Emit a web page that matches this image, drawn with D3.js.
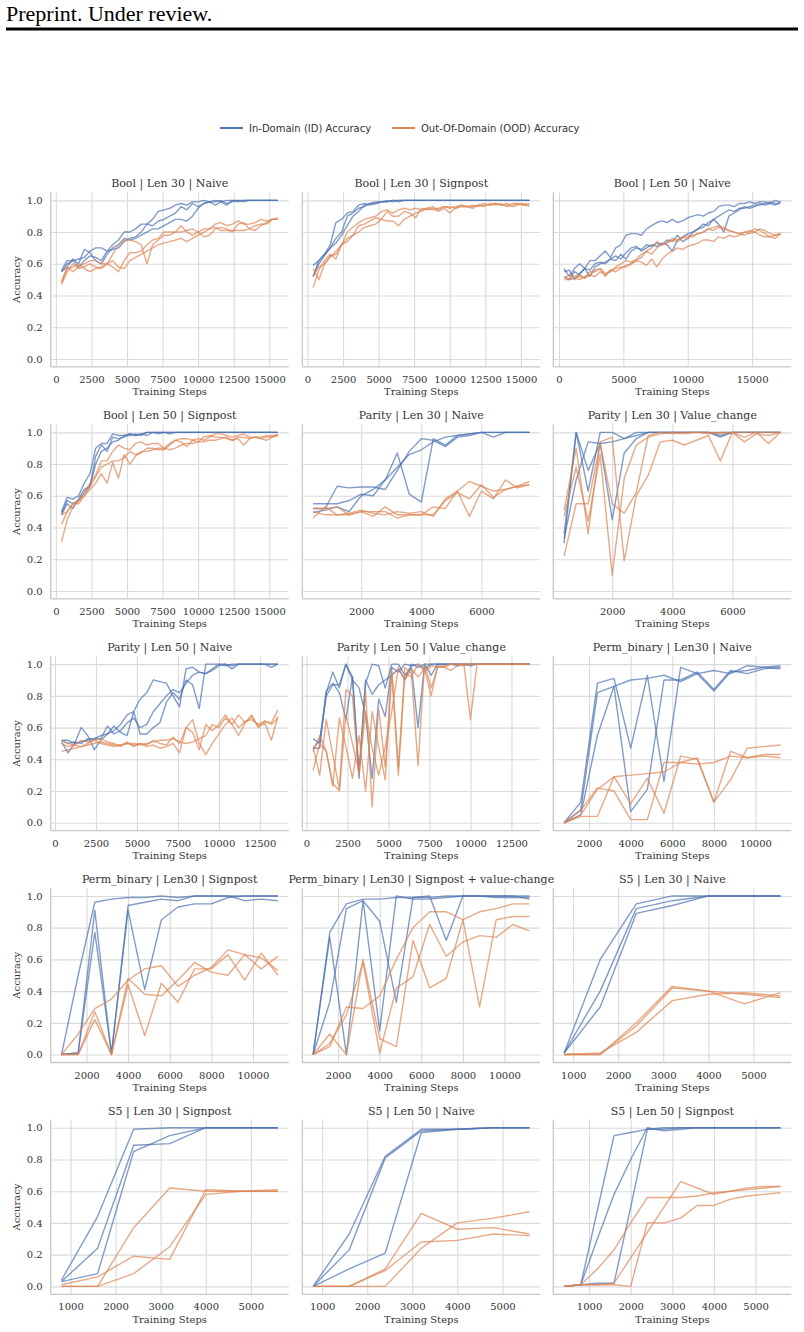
<!DOCTYPE html>
<html>
<head>
<meta charset="utf-8">
<script src="https://cdn.jsdelivr.net/npm/d3@7"></script>
<style>
  html, body { margin: 0; padding: 0; background: #fff; }
  svg { display: block; }
  .page-head { font-family: "Liberation Serif", serif; font-size: 22px; fill: #000; }
  .legend-text { font-family: "DejaVu Sans", sans-serif; font-size: 10px; fill: #333; }
  .panel-title { font-family: "DejaVu Serif", serif; font-size: 11px; fill: #333; }
  .axis-label { font-family: "DejaVu Serif", serif; font-size: 10px; fill: #333; }
  .tick text { font-family: "DejaVu Serif", serif; font-size: 10px; fill: #333; }
  .grid line { stroke: #dadada; stroke-width: 1.1; }
  .spine { stroke: #c8c8c8; stroke-width: 1.3; }
  .run { fill: none; stroke-width: 1.4; stroke-opacity: 0.7; stroke-linejoin: round; }
</style>
</head>
<body>
<svg id="chart" width="804" height="1332"></svg>
<script>
// ---- training steps (x values) ----
const stepsBool = [400, 800, 1200, 1600, 2000, 2400, 2800, 3200, 3600, 4000,
  4400, 4800, 5200, 5600, 6000, 6400, 6800, 7200, 7600, 8000,
  8400, 8800, 9200, 9600, 10000, 10400, 10800, 11200, 11600, 12000,
  12400, 12800, 13200, 13600, 14000, 14400, 14800, 15200, 15600];
const stepsBoolLong = [400, 800, 1200, 1600, 2000, 2400, 2800, 3200, 3600, 4000,
  4400, 4800, 5200, 5600, 6000, 6400, 6800, 7200, 7600, 8000,
  8400, 8800, 9200, 9600, 10000, 10400, 10800, 11200, 11600, 12000,
  12400, 12800, 13200, 13600, 14000, 14400, 14800, 15200, 15600, 16000,
  16400, 16800, 17200];
const stepsParity30 = [400, 800, 1200, 1600, 2000, 2400, 2800, 3200, 3600, 4000,
  4400, 4800, 5200, 5600, 6000, 6400, 6800, 7200, 7600];
const stepsParity50 = [400, 800, 1200, 1600, 2000, 2400, 2800, 3200, 3600, 4000,
  4400, 4800, 5200, 5600, 6000, 6400, 6800, 7200, 7600, 8000,
  8400, 8800, 9200, 9600, 10000, 10400, 10800, 11200, 11600, 12000,
  12400, 12800, 13200, 13600];
const stepsPerm = [800, 1600, 2400, 3200, 4000, 4800, 5600, 6400, 7200, 8000, 8800, 9600, 10400, 11200];
const stepsS5 = [800, 1600, 2400, 3200, 4000, 4800, 5600];
const stepsS5Fine = [400, 800, 1200, 1600, 2000, 2400, 2800, 3200, 3600, 4000, 4400, 4800, 5200, 5600];

// ---- tick labels ----
const ticksBool = [0, 2500, 5000, 7500, 10000, 12500, 15000];
const ticksBoolLong = [0, 5000, 10000, 15000];
const ticksParity30 = [2000, 4000, 6000];
const ticksParity50 = [0, 2500, 5000, 7500, 10000, 12500];
const ticksPerm = [2000, 4000, 6000, 8000, 10000];
const ticksS5 = [1000, 2000, 3000, 4000, 5000];
const ticksAcc = [0, 0.2, 0.4, 0.6, 0.8, 1.0];

// ---- accuracy runs: three seeds per setting, ID and OOD ----
const boolLen30NaiveId = [
  [0.55,0.60,0.62,0.63,0.64,0.68,0.70,0.70,0.68,0.72, 0.75,0.80,0.80,0.82,0.85,0.85,0.88,0.93,0.94,0.95,
   0.97,0.98,0.97,0.99,0.99,1.00,0.99,1.00,0.99,1.00, 1.00,1.00,0.99,1.00,1.00,1.00,1.00,1.00,1.00],
  [0.56,0.62,0.62,0.58,0.62,0.65,0.64,0.62,0.68,0.69, 0.70,0.74,0.76,0.77,0.80,0.85,0.84,0.87,0.88,0.90,
   0.92,0.96,0.94,0.98,0.96,0.98,0.99,0.99,1.00,0.98, 0.99,1.00,1.00,1.00,1.00,1.00,1.00,1.00,1.00],
  [0.55,0.58,0.63,0.60,0.69,0.67,0.62,0.60,0.66,0.70, 0.72,0.76,0.75,0.76,0.78,0.80,0.82,0.82,0.84,0.86,
   0.88,0.88,0.87,0.90,0.95,0.98,0.99,0.97,0.99,0.97, 1.00,0.99,1.00,1.00,1.00,1.00,1.00,1.00,1.00]
];
const boolLen30NaiveOod = [
  [0.47,0.55,0.60,0.57,0.58,0.60,0.58,0.57,0.60,0.66, 0.72,0.75,0.75,0.74,0.72,0.60,0.72,0.75,0.78,0.78,
   0.80,0.84,0.80,0.78,0.80,0.82,0.82,0.85,0.86,0.84, 0.85,0.87,0.85,0.85,0.86,0.88,0.87,0.88,0.88],
  [0.49,0.57,0.58,0.60,0.57,0.55,0.57,0.58,0.60,0.58, 0.55,0.62,0.67,0.67,0.68,0.72,0.75,0.76,0.80,0.80,
   0.80,0.80,0.81,0.82,0.80,0.77,0.78,0.82,0.83,0.82, 0.80,0.85,0.86,0.82,0.81,0.84,0.86,0.88,0.88],
  [0.48,0.58,0.55,0.58,0.60,0.62,0.62,0.60,0.60,0.62, 0.58,0.57,0.62,0.64,0.66,0.68,0.70,0.72,0.73,0.74,
   0.75,0.76,0.74,0.76,0.78,0.80,0.82,0.83,0.81,0.81, 0.81,0.81,0.81,0.82,0.84,0.85,0.85,0.88,0.89]
];

const boolLen30SignpostId = [
  [0.59,0.62,0.66,0.72,0.86,0.88,0.92,0.93,0.97,0.98, 0.97,0.98,0.99,0.99,1.00,0.99,1.00,1.00,1.00,1.00,
   1.00,1.00,1.00,1.00,1.00,1.00,1.00,1.00,1.00,1.00, 1.00,1.00,1.00,1.00,1.00,1.00,1.00,1.00,1.00],
  [0.52,0.60,0.65,0.70,0.76,0.80,0.90,0.92,0.95,0.96, 0.98,0.99,0.99,1.00,0.99,1.00,1.00,1.00,1.00,1.00,
   1.00,1.00,1.00,1.00,1.00,1.00,1.00,1.00,1.00,1.00, 1.00,1.00,1.00,1.00,1.00,1.00,1.00,1.00,1.00],
  [0.52,0.62,0.66,0.70,0.73,0.78,0.84,0.90,0.93,0.97, 0.98,0.98,0.99,0.99,1.00,1.00,1.00,1.00,1.00,1.00,
   1.00,1.00,1.00,1.00,1.00,1.00,1.00,1.00,1.00,1.00, 1.00,1.00,1.00,1.00,1.00,1.00,1.00,1.00,1.00]
];
const boolLen30SignpostOod = [
  [0.57,0.50,0.60,0.65,0.66,0.72,0.80,0.83,0.86,0.88, 0.89,0.90,0.93,0.94,0.92,0.94,0.95,0.94,0.95,0.94,
   0.95,0.96,0.94,0.96,0.95,0.96,0.97,0.96,0.97,0.96, 0.97,0.97,0.98,0.97,0.97,0.96,0.97,0.98,0.97],
  [0.45,0.56,0.62,0.66,0.63,0.72,0.74,0.78,0.84,0.85, 0.87,0.89,0.88,0.93,0.90,0.90,0.93,0.92,0.89,0.95,
   0.94,0.95,0.93,0.95,0.92,0.95,0.96,0.96,0.95,0.97, 0.96,0.98,0.97,0.98,0.96,0.98,0.98,0.97,0.98],
  [0.52,0.58,0.60,0.64,0.68,0.72,0.76,0.78,0.80,0.83, 0.84,0.85,0.88,0.87,0.87,0.84,0.88,0.90,0.92,0.93,
   0.95,0.94,0.95,0.96,0.96,0.95,0.97,0.96,0.96,0.97, 0.98,0.97,0.98,0.97,0.98,0.97,0.98,0.97,0.96]
];

const boolLen50NaiveId = [
  [0.57,0.52,0.57,0.60,0.57,0.62,0.62,0.65,0.68,0.64, 0.70,0.72,0.78,0.79,0.79,0.78,0.82,0.84,0.86,0.87,
   0.86,0.88,0.86,0.87,0.89,0.90,0.91,0.90,0.92,0.93, 0.96,0.97,0.97,0.96,0.98,0.98,0.99,0.98,0.99,0.99,
   0.98,1.00,0.99],
  [0.55,0.56,0.50,0.54,0.57,0.52,0.58,0.60,0.61,0.63, 0.62,0.66,0.63,0.68,0.70,0.69,0.72,0.71,0.73,0.72,
   0.75,0.74,0.78,0.74,0.76,0.80,0.82,0.85,0.84,0.88, 0.85,0.80,0.90,0.92,0.94,0.96,0.95,0.96,0.98,0.97,
   0.98,0.97,0.99],
  [0.52,0.50,0.55,0.53,0.57,0.56,0.60,0.61,0.60,0.63, 0.65,0.63,0.67,0.70,0.71,0.68,0.70,0.72,0.71,0.73,
   0.72,0.68,0.75,0.77,0.79,0.80,0.82,0.83,0.86,0.88, 0.90,0.92,0.94,0.93,0.95,0.95,0.96,0.97,0.97,0.98,
   0.99,0.98,0.98]
];
const boolLen50NaiveOod = [
  [0.52,0.50,0.51,0.50,0.52,0.53,0.56,0.57,0.54,0.55, 0.58,0.60,0.62,0.61,0.63,0.66,0.68,0.70,0.74,0.72,
   0.73,0.75,0.74,0.76,0.78,0.77,0.79,0.80,0.82,0.81, 0.83,0.82,0.81,0.80,0.79,0.80,0.81,0.80,0.82,0.81,
   0.79,0.78,0.79],
  [0.50,0.50,0.51,0.52,0.51,0.53,0.52,0.55,0.53,0.56, 0.55,0.57,0.59,0.60,0.62,0.64,0.68,0.66,0.70,0.72,
   0.74,0.76,0.75,0.77,0.76,0.78,0.79,0.80,0.82,0.83, 0.84,0.83,0.81,0.80,0.79,0.78,0.80,0.82,0.81,0.79,
   0.77,0.76,0.79],
  [0.51,0.53,0.52,0.53,0.51,0.55,0.55,0.57,0.52,0.56, 0.57,0.58,0.58,0.60,0.62,0.61,0.59,0.63,0.58,0.63,
   0.66,0.68,0.70,0.69,0.71,0.72,0.73,0.75,0.75,0.74, 0.77,0.76,0.78,0.77,0.78,0.80,0.79,0.80,0.78,0.77,
   0.77,0.78,0.79]
];

const boolLen50SignpostId = [
  [0.50,0.59,0.58,0.60,0.68,0.74,0.90,0.93,0.93,0.99, 0.98,0.98,0.99,0.98,0.99,0.98,1.00,0.99,1.00,0.99,
   1.00,1.00,1.00,1.00,1.00,1.00,1.00,1.00,1.00,1.00, 1.00,1.00,1.00,1.00,1.00,1.00,1.00,1.00,1.00],
  [0.48,0.55,0.52,0.58,0.64,0.66,0.85,0.92,0.88,0.97, 0.96,0.97,0.99,0.98,0.99,1.00,1.00,1.00,1.00,1.00,
   1.00,1.00,1.00,1.00,1.00,1.00,1.00,1.00,1.00,1.00, 1.00,1.00,1.00,1.00,1.00,1.00,1.00,1.00,1.00],
  [0.49,0.57,0.55,0.57,0.62,0.66,0.80,0.88,0.90,0.94, 0.95,0.98,0.98,0.99,0.98,1.00,1.00,1.00,1.00,1.00,
   1.00,1.00,1.00,1.00,1.00,1.00,1.00,1.00,1.00,1.00, 1.00,1.00,1.00,1.00,1.00,1.00,1.00,1.00,1.00]
];
const boolLen50SignpostOod = [
  [0.31,0.45,0.53,0.57,0.60,0.64,0.68,0.74,0.68,0.81, 0.71,0.86,0.80,0.85,0.88,0.88,0.89,0.90,0.90,0.89,
   0.90,0.92,0.93,0.93,0.94,0.94,0.95,0.95,0.96,0.97, 0.95,0.97,0.97,0.96,0.97,0.96,0.97,0.98,0.98],
  [0.42,0.50,0.55,0.55,0.60,0.66,0.72,0.78,0.80,0.82, 0.82,0.84,0.88,0.86,0.87,0.90,0.90,0.89,0.89,0.92,
   0.95,0.96,0.96,0.95,0.94,0.97,0.98,0.97,0.97,0.96, 0.95,0.96,0.92,0.96,0.97,0.97,0.98,0.97,0.98],
  [0.48,0.50,0.55,0.57,0.62,0.68,0.73,0.82,0.82,0.88, 0.92,0.90,0.89,0.93,0.94,0.92,0.93,0.93,0.90,0.93,
   0.95,0.94,0.91,0.95,0.96,0.95,0.97,0.99,0.99,0.98, 0.97,0.98,0.99,0.97,0.97,0.96,0.95,0.97,0.99]
];

const parityLen30NaiveId = [
  [0.55,0.55,0.55,0.57,0.61,0.60,0.70,0.87,0.61,0.56, 0.96,0.92,0.98,0.99,1.00,1.00,1.00,1.00,1.00],
  [0.52,0.52,0.66,0.65,0.655,0.655,0.64,0.76,0.88,0.96, 0.95,0.91,0.97,0.98,1.00,0.97,1.00,1.00,1.00],
  [0.495,0.51,0.53,0.50,0.60,0.64,0.70,0.78,0.86,0.89, 0.94,0.97,0.98,0.99,1.00,1.00,1.00,1.00,1.00]
];
const parityLen30NaiveOod = [
  [0.52,0.52,0.53,0.48,0.50,0.50,0.50,0.46,0.48,0.48, 0.53,0.52,0.63,0.47,0.63,0.58,0.70,0.65,0.67],
  [0.50,0.48,0.48,0.49,0.51,0.49,0.48,0.50,0.49,0.50, 0.47,0.58,0.63,0.69,0.66,0.63,0.64,0.66,0.69],
  [0.46,0.53,0.48,0.48,0.50,0.47,0.53,0.48,0.48,0.48, 0.48,0.57,0.62,0.58,0.67,0.59,0.64,0.66,0.67]
];

const parityLen30ValueId = [
  [0.36,1.00,0.76,0.93,0.94,0.96,1.00,1.00,1.00,1.00, 1.00,1.00,1.00,0.98,1.00,1.00,1.00,1.00,1.00],
  [0.30,1.00,0.63,1.00,1.00,0.96,0.98,1.00,1.00,1.00, 1.00,1.00,1.00,1.00,1.00,1.00,1.00,1.00,1.00],
  [0.33,0.70,0.94,0.93,0.45,0.87,0.96,1.00,1.00,1.00, 1.00,1.00,1.00,0.97,1.00,1.00,1.00,1.00,1.00]
];
const parityLen30ValueOod = [
  [0.51,0.90,0.36,0.94,0.97,0.19,0.60,0.73,0.94,0.95, 0.92,0.95,0.98,0.82,1.00,0.97,1.00,0.93,1.00],
  [0.47,0.78,0.44,0.86,0.10,0.71,0.92,0.97,0.99,1.00, 0.99,1.00,0.99,1.00,1.00,0.94,0.99,0.98,1.00],
  [0.22,0.55,0.55,0.93,0.55,0.49,0.62,0.98,1.00,0.99, 1.00,1.00,1.00,0.99,1.00,1.00,1.00,1.00,1.00]
];

const parityLen50NaiveId = [
  [0.52,0.50,0.51,0.50,0.53,0.53,0.55,0.56,0.58,0.62, 0.68,0.70,0.78,0.82,0.90,0.89,0.88,0.80,0.73,0.97,
   0.98,0.95,0.94,0.96,0.99,1.00,0.99,1.00,1.00,1.00, 1.00,1.00,0.98,1.00],
  [0.51,0.44,0.50,0.60,0.55,0.46,0.52,0.56,0.61,0.57, 0.55,0.70,0.56,0.56,0.60,0.63,0.76,0.82,0.78,0.90,
   0.87,0.72,1.00,1.00,1.00,1.00,0.97,1.00,1.00,1.00, 1.00,1.00,1.00,1.00],
  [0.52,0.52,0.50,0.51,0.52,0.53,0.53,0.61,0.56,0.58, 0.63,0.66,0.60,0.62,0.70,0.75,0.80,0.84,0.82,0.88,
   0.93,0.95,0.94,0.97,1.00,0.99,1.00,1.00,1.00,1.00, 1.00,1.00,1.00,1.00]
];
const parityLen50NaiveOod = [
  [0.45,0.46,0.47,0.48,0.49,0.50,0.51,0.50,0.49,0.49, 0.50,0.50,0.49,0.50,0.51,0.52,0.52,0.53,0.51,0.50,
   0.51,0.53,0.55,0.62,0.60,0.66,0.62,0.68,0.63,0.67, 0.61,0.64,0.63,0.71],
  [0.50,0.48,0.49,0.48,0.50,0.52,0.50,0.49,0.48,0.49, 0.50,0.49,0.50,0.48,0.49,0.47,0.48,0.50,0.44,0.60,
   0.57,0.46,0.62,0.58,0.62,0.68,0.62,0.55,0.63,0.68, 0.60,0.63,0.52,0.67],
  [0.52,0.50,0.49,0.52,0.51,0.52,0.53,0.51,0.50,0.48, 0.51,0.48,0.50,0.49,0.52,0.50,0.49,0.54,0.50,0.60,
   0.65,0.50,0.43,0.50,0.56,0.62,0.66,0.60,0.64,0.65, 0.62,0.64,0.62,0.66]
];

const parityLen50ValueId = [
  [0.53,0.50,0.82,0.95,0.85,1.00,0.92,0.32,0.90,0.81, 0.87,0.90,0.93,0.97,0.90,1.00,0.98,1.00,1.00,1.00,
   1.00,1.00,1.00,1.00,0.99,1.00,1.00,1.00,1.00,1.00, 1.00,1.00,1.00,1.00],
  [0.47,0.47,0.83,0.88,0.82,0.65,0.92,0.28,0.88,1.00, 0.99,0.85,1.00,1.00,0.93,0.98,0.60,1.00,0.93,1.00,
   1.00,1.00,1.00,1.00,1.00,1.00,1.00,1.00,1.00,1.00, 1.00,1.00,1.00,1.00],
  [0.47,0.52,0.80,0.87,0.87,1.00,0.90,0.85,0.68,0.28, 0.78,0.67,0.98,0.95,1.00,0.99,1.00,0.97,1.00,1.00,
   1.00,1.00,0.99,1.00,1.00,1.00,1.00,1.00,1.00,1.00, 1.00,1.00,1.00,1.00]
];
const parityLen50ValueOod = [
  [0.47,0.30,0.65,0.43,0.21,0.84,0.80,0.30,0.83,0.10, 0.72,0.35,0.97,0.35,0.98,0.94,0.36,1.00,0.85,0.98,
   0.99,1.00,1.00,1.00,1.00,1.00,1.00,1.00,1.00,1.00, 1.00,1.00,1.00,1.00],
  [0.33,0.50,0.45,0.23,0.66,0.48,0.28,0.55,0.20,0.70, 0.48,0.27,0.95,0.30,0.94,0.92,1.00,0.95,0.99,0.98,
   0.98,0.96,0.99,1.00,0.65,1.00,1.00,1.00,1.00,1.00, 1.00,1.00,1.00,1.00],
  [0.45,0.55,0.45,0.25,0.20,0.68,0.50,0.32,0.70,0.47, 0.30,0.48,0.70,0.98,0.90,0.97,0.92,0.97,0.80,0.99,
   0.98,1.00,1.00,0.99,1.00,1.00,1.00,1.00,1.00,1.00, 1.00,1.00,1.00,1.00]
];

const permNaiveId = [
  [0.00,0.13,0.88,0.91,0.47,0.93,0.26,0.98,0.94,0.83,0.95,0.96,0.98,0.99],
  [0.00,0.08,0.82,0.86,0.07,0.21,0.90,0.90,0.95,0.84,0.96,0.94,0.97,0.98],
  [0.00,0.05,0.55,0.86,0.90,0.91,0.93,0.89,0.94,0.96,0.94,0.99,0.98,0.97]
];
const permNaiveOod = [
  [0.00,0.05,0.21,0.29,0.30,0.31,0.32,0.38,0.37,0.38,0.42,0.41,0.43,0.43],
  [0.00,0.08,0.22,0.20,0.02,0.02,0.38,0.38,0.41,0.13,0.27,0.47,0.48,0.49],
  [0.00,0.04,0.04,0.29,0.12,0.28,0.06,0.42,0.40,0.13,0.45,0.41,0.42,0.41]
];

const permSignpostId = [
  [0.00,0.50,0.96,0.98,0.99,0.99,1.00,0.99,1.00,1.00,1.00,1.00,1.00,1.00],
  [0.00,0.01,0.91,0.00,0.94,0.96,0.98,0.97,1.00,1.00,1.00,0.97,0.98,0.97],
  [0.00,0.01,0.77,0.01,0.91,0.41,0.85,0.93,0.95,0.95,0.99,1.00,1.00,1.00]
];
const permSignpostOod = [
  [0.00,0.13,0.29,0.35,0.47,0.54,0.56,0.43,0.50,0.55,0.66,0.63,0.61,0.53],
  [0.00,0.00,0.27,0.00,0.48,0.38,0.37,0.47,0.58,0.52,0.50,0.63,0.54,0.62],
  [0.00,0.00,0.22,0.00,0.44,0.12,0.45,0.33,0.54,0.54,0.63,0.47,0.64,0.50]
];

const permBothId = [
  [0.00,0.77,0.95,0.98,0.98,0.99,0.99,0.99,1.00,1.00,1.00,1.00,1.00,1.00],
  [0.00,0.33,0.92,0.97,0.84,0.33,0.99,1.00,0.72,1.00,1.00,1.00,1.00,0.98],
  [0.00,0.74,0.00,0.97,0.15,1.00,0.98,0.98,0.99,1.00,1.00,0.99,0.99,0.99]
];
const permBothOod = [
  [0.00,0.13,0.00,0.60,0.10,0.05,0.72,0.42,0.48,0.85,0.30,0.85,0.87,0.87],
  [0.00,0.07,0.25,0.58,0.01,0.42,0.49,0.82,0.62,0.71,0.75,0.74,0.82,0.78],
  [0.00,0.05,0.30,0.29,0.37,0.60,0.80,0.90,0.90,0.85,0.90,0.92,0.95,0.95]
];

const s5Len30NaiveId = [
  [0.01,0.60,0.95,1.00,1.00,1.00,1.00],
  [0.01,0.40,0.92,0.97,1.00,1.00,1.00],
  [0.01,0.30,0.89,0.94,1.00,1.00,1.00]
];
const s5Len30NaiveOod = [
  [0.00,0.00,0.20,0.43,0.40,0.38,0.36],
  [0.00,0.00,0.18,0.42,0.40,0.32,0.39],
  [0.00,0.01,0.14,0.34,0.38,0.39,0.37]
];

const s5Len30SignpostId = [
  [0.04,0.44,0.99,1.00,1.00,1.00,1.00],
  [0.03,0.24,0.89,0.90,1.00,1.00,1.00],
  [0.03,0.08,0.85,0.95,1.00,1.00,1.00]
];
const s5Len30SignpostOod = [
  [0.01,0.06,0.19,0.17,0.61,0.60,0.60],
  [0.00,0.00,0.37,0.62,0.60,0.60,0.61],
  [0.00,0.00,0.08,0.25,0.58,0.60,0.60]
];

const s5Len50NaiveId = [
  [0.00,0.33,0.82,0.99,0.99,1.00,1.00],
  [0.00,0.23,0.81,0.98,0.99,1.00,1.00],
  [0.00,0.11,0.21,0.97,0.99,1.00,1.00]
];
const s5Len50NaiveOod = [
  [0.00,0.00,0.11,0.46,0.36,0.37,0.33],
  [0.00,0.00,0.10,0.28,0.29,0.33,0.32],
  [0.00,0.00,0.00,0.24,0.40,0.43,0.47]
];

const s5Len50SignpostId = [
  [0.00,0.01,0.48,0.95,0.97,0.99,1.00,1.00,1.00,1.00,1.00,1.00,1.00,1.00],
  [0.00,0.01,0.30,0.58,0.80,1.00,0.98,0.99,1.00,1.00,1.00,1.00,1.00,1.00],
  [0.00,0.01,0.02,0.02,0.50,0.99,0.99,1.00,1.00,1.00,1.00,1.00,1.00,1.00]
];
const s5Len50SignpostOod = [
  [0.00,0.01,0.11,0.23,0.40,0.56,0.56,0.56,0.57,0.59,0.60,0.61,0.62,0.63],
  [0.00,0.01,0.01,0.01,0.00,0.40,0.40,0.43,0.51,0.51,0.55,0.57,0.58,0.59],
  [0.00,0.01,0.01,0.02,0.18,0.34,0.50,0.66,0.62,0.58,0.60,0.62,0.63,0.63]
];

// Panel table, in reading order (3 per row)
const panels = [
  { title: "Bool | Len 30 | Naive", steps: stepsBool, ticks: ticksBool, id: boolLen30NaiveId, ood: boolLen30NaiveOod },
  { title: "Bool | Len 30 | Signpost", steps: stepsBool, ticks: ticksBool, id: boolLen30SignpostId, ood: boolLen30SignpostOod },
  { title: "Bool | Len 50 | Naive", steps: stepsBoolLong, ticks: ticksBoolLong, id: boolLen50NaiveId, ood: boolLen50NaiveOod },
  { title: "Bool | Len 50 | Signpost", steps: stepsBool, ticks: ticksBool, id: boolLen50SignpostId, ood: boolLen50SignpostOod },
  { title: "Parity | Len 30 | Naive", steps: stepsParity30, ticks: ticksParity30, id: parityLen30NaiveId, ood: parityLen30NaiveOod },
  { title: "Parity | Len 30 | Value_change", steps: stepsParity30, ticks: ticksParity30, id: parityLen30ValueId, ood: parityLen30ValueOod },
  { title: "Parity | Len 50 | Naive", steps: stepsParity50, ticks: ticksParity50, id: parityLen50NaiveId, ood: parityLen50NaiveOod },
  { title: "Parity | Len 50 | Value_change", steps: stepsParity50, ticks: ticksParity50, id: parityLen50ValueId, ood: parityLen50ValueOod },
  { title: "Perm_binary | Len30 | Naive", steps: stepsPerm, ticks: ticksPerm, id: permNaiveId, ood: permNaiveOod },
  { title: "Perm_binary | Len30 | Signpost", steps: stepsPerm, ticks: ticksPerm, id: permSignpostId, ood: permSignpostOod },
  { title: "Perm_binary | Len30 | Signpost + value-change", steps: stepsPerm, ticks: ticksPerm, id: permBothId, ood: permBothOod },
  { title: "S5 | Len 30 | Naive", steps: stepsS5, ticks: ticksS5, id: s5Len30NaiveId, ood: s5Len30NaiveOod },
  { title: "S5 | Len 30 | Signpost", steps: stepsS5, ticks: ticksS5, id: s5Len30SignpostId, ood: s5Len30SignpostOod },
  { title: "S5 | Len 50 | Naive", steps: stepsS5, ticks: ticksS5, id: s5Len50NaiveId, ood: s5Len50NaiveOod },
  { title: "S5 | Len 50 | Signpost", steps: stepsS5Fine, ticks: ticksS5, id: s5Len50SignpostId, ood: s5Len50SignpostOod }
];

const colors = { id: "#4c72b0", ood: "#dd8452" };

// Grid layout (pixel boxes of each axes area)
const colLeft = [50.7, 302.3, 553.3];
const rowTop = [192.4, 424.4, 656.2, 888, 1119.8];
const panelW = 238;
const panelH = 174.5;

const svg = d3.select("#chart");

// Page header
svg.append("text").attr("class", "page-head").attr("x", 6).attr("y", 21).text("Preprint. Under review.");
svg.append("rect").attr("x", 6).attr("y", 27.5).attr("width", 792).attr("height", 3).attr("fill", "#000");

// Legend
const legend = svg.append("g");
[
  { label: "In-Domain (ID) Accuracy", color: colors.id, x: 220 },
  { label: "Out-Of-Domain (OOD) Accuracy", color: colors.ood, x: 392 }
].forEach((d) => {
  legend.append("line")
    .attr("x1", d.x).attr("x2", d.x + 23).attr("y1", 128).attr("y2", 128)
    .attr("stroke", d.color).attr("stroke-width", 2);
  legend.append("text").attr("class", "legend-text")
    .attr("x", d.x + 29).attr("y", 131.5).text(d.label);
});

panels.forEach((p, i) => {
  const col = i % 3;
  const row = Math.floor(i / 3);
  const g = svg.append("g").attr("transform", `translate(${colLeft[col]},${rowTop[row]})`);

  // matplotlib-style 5% margins around the data
  const [x0, x1] = d3.extent(p.steps);
  const pad = (x1 - x0) * 0.05;
  const x = d3.scaleLinear().domain([x0 - pad, x1 + pad]).range([0, panelW]);
  const y = d3.scaleLinear().domain([-0.05, 1.05]).range([panelH, 0]);

  // Grid lines
  g.append("g").attr("class", "grid")
    .call(d3.axisLeft(y).tickValues(ticksAcc).tickSize(-panelW).tickFormat(""))
    .call((s) => s.select(".domain").remove());
  g.append("g").attr("class", "grid")
    .attr("transform", `translate(0,${panelH})`)
    .call(d3.axisBottom(x).tickValues(p.ticks).tickSize(-panelH).tickFormat(""))
    .call((s) => s.select(".domain").remove());

  // Left and bottom spines only (despined)
  g.append("line").attr("class", "spine").attr("x1", 0).attr("x2", 0).attr("y1", 0).attr("y2", panelH);
  g.append("line").attr("class", "spine").attr("x1", 0).attr("x2", panelW).attr("y1", panelH).attr("y2", panelH);

  // Runs: ID first, OOD on top
  const line = d3.line()
    .defined((d) => d[0] != null && d[1] != null)
    .x((d) => x(d[0]))
    .y((d) => y(d[1]));
  const runs = [];
  p.id.forEach((vals) => runs.push({ color: colors.id, pts: vals.map((v, k) => [p.steps[k], v]) }));
  p.ood.forEach((vals) => runs.push({ color: colors.ood, pts: vals.map((v, k) => [p.steps[k], v]) }));
  g.selectAll("path.run").data(runs).join("path")
    .attr("class", "run")
    .attr("stroke", (d) => d.color)
    .attr("d", (d) => line(d.pts));

  // Tick labels
  g.append("g")
    .attr("transform", `translate(0,${panelH})`)
    .call(d3.axisBottom(x).tickValues(p.ticks).tickSize(0).tickPadding(9).tickFormat(d3.format("d")))
    .call((s) => s.select(".domain").remove());
  if (col === 0) {
    g.append("g")
      .call(d3.axisLeft(y).tickValues(ticksAcc).tickSize(0).tickPadding(8).tickFormat(d3.format(".1f")))
      .call((s) => s.select(".domain").remove());
    g.append("text").attr("class", "axis-label")
      .attr("text-anchor", "middle")
      .attr("transform", `translate(${20 - colLeft[0]},${panelH / 2}) rotate(-90)`)
      .text("Accuracy");
  }

  // Titles and x label
  g.append("text").attr("class", "panel-title")
    .attr("text-anchor", "middle").attr("x", panelW / 2).attr("y", -5)
    .text(p.title);
  g.append("text").attr("class", "axis-label")
    .attr("text-anchor", "middle").attr("x", panelW / 2).attr("y", panelH + 28.4)
    .text("Training Steps");
});
</script>
</body>
</html>
